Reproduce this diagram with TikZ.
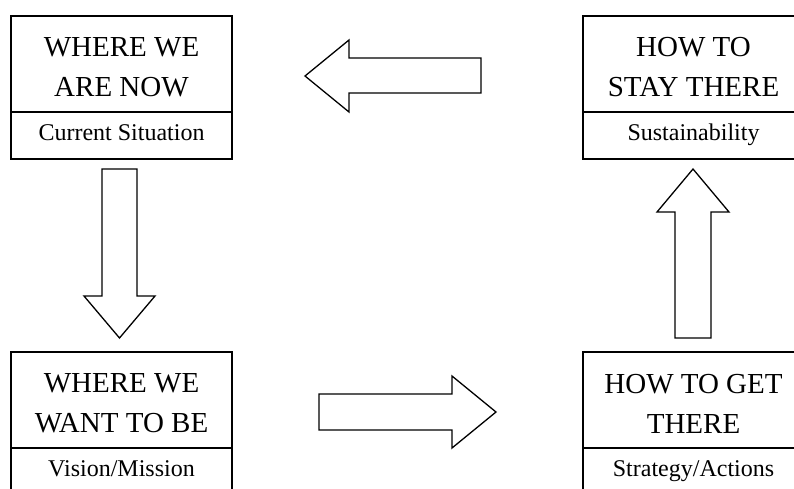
\documentclass[tikz,border=0pt]{standalone}
\usepackage{fontspec}
\setmainfont{Liberation Serif}
\begin{document}
\begin{tikzpicture}[x=1pt,y=-1pt,
  box/.style={draw=black,line width=1.8pt,fill=white},
  divider/.style={draw=black,line width=1.8pt},
  title/.style={align=center,inner sep=0pt,font=\fontsize{29}{40}\selectfont},
  subtitle/.style={anchor=base,inner sep=0pt,font=\fontsize{24}{28}\selectfont},
  blockarrow/.style={draw=black,line width=1.3pt,fill=white,line join=miter}]
\clip (0,0) rectangle (794,488);
\fill[white] (0,0) rectangle (794,488);

% the four stage boxes (the right and bottom ones run past the page edge)
\draw[box] (11,16) rectangle (232,159);
\draw[divider] (11,112) -- (232,112);
\node[title] (now) at (121.5,67.5) {WHERE WE\\ARE NOW};
\node[subtitle] (nowsub) at (121.5,140) {Current Situation};

\draw[box] (583,16) rectangle (804,159);
\draw[divider] (583,112) -- (804,112);
\node[title] (stay) at (693.5,67.5) {HOW TO\\STAY THERE};
\node[subtitle] (staysub) at (693.5,140) {Sustainability};

\draw[box] (11,352) rectangle (232,495);
\draw[divider] (11,448) -- (232,448);
\node[title] (want) at (121.5,403.5) {WHERE WE\\WANT TO BE};
\node[subtitle] (wantsub) at (121.5,476) {Vision/Mission};

\draw[box] (583,352) rectangle (804,495);
\draw[divider] (583,448) -- (804,448);
\node[title] (get) at (693.5,403.5) {HOW TO GET\\THERE};
\node[subtitle] (getsub) at (693.5,476) {Strategy/Actions};

% block arrows between the stages
\draw[blockarrow] (481,58) -- (349,58) -- (349,40) -- (305,76) -- (349,112)
  -- (349,93) -- (481,93) -- cycle;
\draw[blockarrow] (102,169) -- (137,169) -- (137,296) -- (155,296) -- (119.5,338)
  -- (84,296) -- (102,296) -- cycle;
\draw[blockarrow] (319,394) -- (452,394) -- (452,376) -- (496,412) -- (452,448)
  -- (452,430) -- (319,430) -- cycle;
\draw[blockarrow] (675,338) -- (675,212) -- (657,212) -- (693,169) -- (729,212)
  -- (711,212) -- (711,338) -- cycle;
\end{tikzpicture}
\end{document}
